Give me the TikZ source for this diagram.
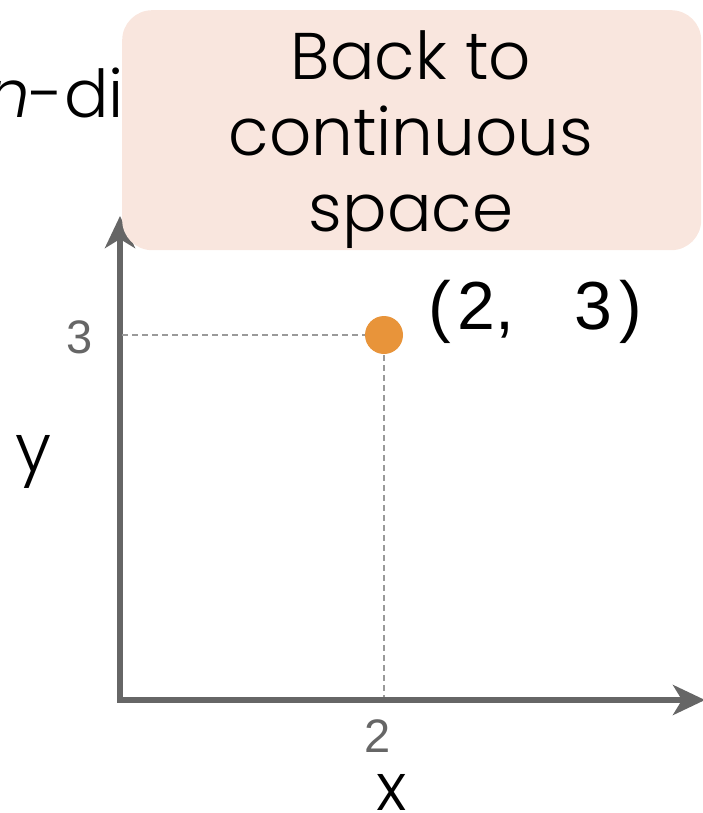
\documentclass[tikz,border=0pt]{standalone}
\usepackage{fontspec}
\setmainfont{Poppins Light}
\newfontfamily\numfont{Liberation Sans}
\usetikzlibrary{arrows.meta}
\definecolor{boxfill}{HTML}{F9E6DE}
\definecolor{axisgray}{HTML}{666666}
\definecolor{dashgray}{HTML}{9A9A9A}
\definecolor{dotorange}{HTML}{E8943A}
\tikzset{
  axisline/.style={draw=axisgray, line width=5.5pt, -{Stealth[length=32pt,width=30pt,inset=9pt]}},
  guide/.style={draw=dashgray, line width=1.3pt, dash pattern=on 6pt off 4pt},
  bigtext/.style={font=\fontsize{66}{76}\selectfont, inner sep=0pt},
  ticklabel/.style={font=\numfont\fontsize{47}{47}\selectfont, text=axisgray, inner sep=0pt},
}
\begin{document}
\begin{tikzpicture}[x=1pt,y=-1pt]
\useasboundingbox (0,0) rectangle (703,813);
% hidden text behind the box
\node[bigtext, anchor=base west] (hidden) at (-12,118) {\textit{n}-dimensional};
% axes
\coordinate (O) at (120,700);
\coordinate (ytip) at (120,216);
\coordinate (xtip) at (705,700);
\draw[axisline] (O) -- (ytip);
\draw[axisline] ([xshift=-2.75pt]O) -- (xtip);
% box
\node[fill=boxfill, rounded corners=30pt, minimum width=579pt, minimum height=240pt, anchor=north west, inner sep=0pt] (box) at (122,10) {};
\node[bigtext, align=center, anchor=center] (boxtext) at (411,140) {Back to\\continuous\\space};
% point and guides
\coordinate (p) at (384,335);
\coordinate (py) at (122,335);
\coordinate (px) at (384,697);
\draw[guide] (py) -- (p);
\draw[guide] (p) -- (px);
\node[circle, fill=dotorange, minimum size=38pt, inner sep=0pt] (dot) at (p) {};
\node[font=\numfont\fontsize{68}{68}\selectfont, anchor=west, inner sep=0pt] (plabel) at (428,312) {(\hspace{7pt}2,\hspace{60pt}3\hspace{7pt})};
% tick labels
\node[ticklabel] (t3) at (80,337) {3};
\node[ticklabel] (t2) at (378,736) {2};
% axis labels
\node[bigtext, anchor=center] (ylab) at (33,462) {y};
\node[bigtext, anchor=center] (xlab) at (392,792) {x};
\end{tikzpicture}
\end{document}
